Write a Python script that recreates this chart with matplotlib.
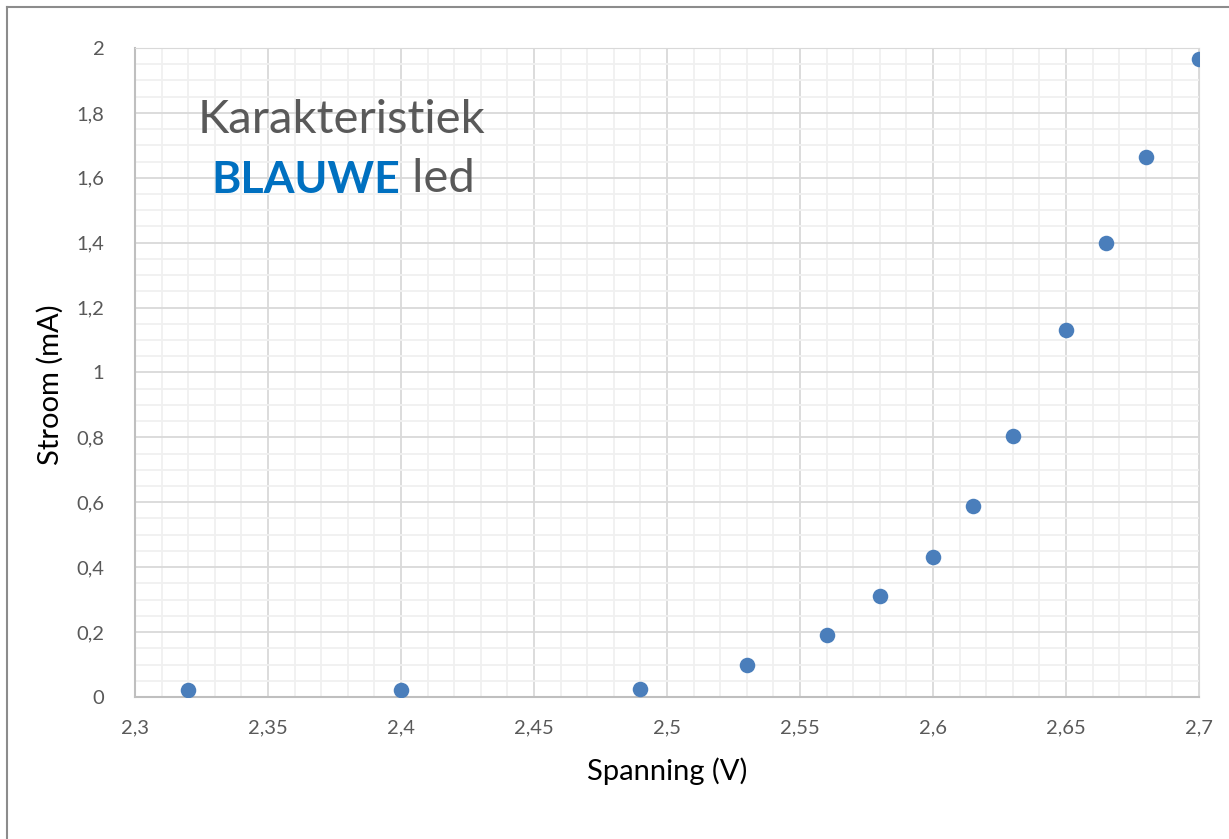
import matplotlib.pyplot as plt
from matplotlib.ticker import MultipleLocator, FuncFormatter
from matplotlib.lines import Line2D

# --- data ---
spanning = [2.32, 2.40, 2.49, 2.53, 2.56, 2.58, 2.60, 2.615, 2.63, 2.65, 2.665, 2.68, 2.70]
stroom = [0.02, 0.02, 0.025, 0.10, 0.19, 0.31, 0.43, 0.59, 0.805, 1.13, 1.40, 1.665, 1.965]

FONT = 'Lato'
GREY = '#595959'

fig = plt.figure(figsize=(12.29, 8.39), dpi=100)
ax = fig.add_axes([0.1098, 0.1693, 0.8658, 0.7735])

ax.scatter(spanning, stroom, s=125, color='#4A7EBB', zorder=3, linewidths=0)

ax.set_xlim(2.3, 2.7)
ax.set_ylim(0, 2)
ax.xaxis.set_major_locator(MultipleLocator(0.05))
ax.xaxis.set_minor_locator(MultipleLocator(0.01))
ax.yaxis.set_major_locator(MultipleLocator(0.2))
ax.yaxis.set_minor_locator(MultipleLocator(0.05))

comma = FuncFormatter(lambda v, p: ('%g' % round(v, 3)).replace('.', ','))
ax.xaxis.set_major_formatter(comma)
ax.yaxis.set_major_formatter(comma)

ax.grid(which='major', color='#D9D9D9', linewidth=1.3, zorder=0)
ax.grid(which='minor', color='#F0F0F0', linewidth=1.3, zorder=0)
ax.set_axisbelow(True)
ax.tick_params(which='both', length=0)
ax.tick_params(axis='x', pad=16, labelsize=14.5, labelcolor=GREY)
ax.tick_params(axis='y', pad=22, labelsize=14.5, labelcolor=GREY)
for lab in ax.get_xticklabels() + ax.get_yticklabels():
    lab.set_fontfamily(FONT)

for side in ['top', 'right']:
    ax.spines[side].set_color('#D9D9D9')
for side in ['bottom', 'left']:
    ax.spines[side].set_color('#BFBFBF')
    ax.spines[side].set_linewidth(1.5)

ax.set_xlabel('Spanning (V)', fontsize=21, fontfamily=FONT, labelpad=15)
ax.set_ylabel('Stroom (mA)', fontsize=21, fontfamily=FONT, labelpad=9)
ax.yaxis.label.set_y(0.481)

# titel in de grafiek
ax.text(0.059, 0.869, 'Karakteristiek', transform=ax.transAxes, fontsize=34,
        fontfamily=FONT, color=GREY, va='baseline', ha='left')
t = ax.text(0.072, 0.7766, 'BLAUWE', transform=ax.transAxes, fontsize=32,
            fontfamily=FONT, fontweight='bold', color='#0070C0', va='baseline', ha='left')
ax.annotate(' led', xy=(1, 0), xycoords=t, fontsize=34, fontfamily=FONT,
            color=GREY, va='bottom', ha='left')

# kader rond de grafiek (links en boven)
fig.add_artist(Line2D([7 / 1229, 7 / 1229], [0, 1 - 7 / 839], color='#8C8C8C', lw=1.5))
fig.add_artist(Line2D([7 / 1229, 1], [1 - 7 / 839, 1 - 7 / 839], color='#8C8C8C', lw=1.5))

plt.savefig('out.png', dpi=100)
